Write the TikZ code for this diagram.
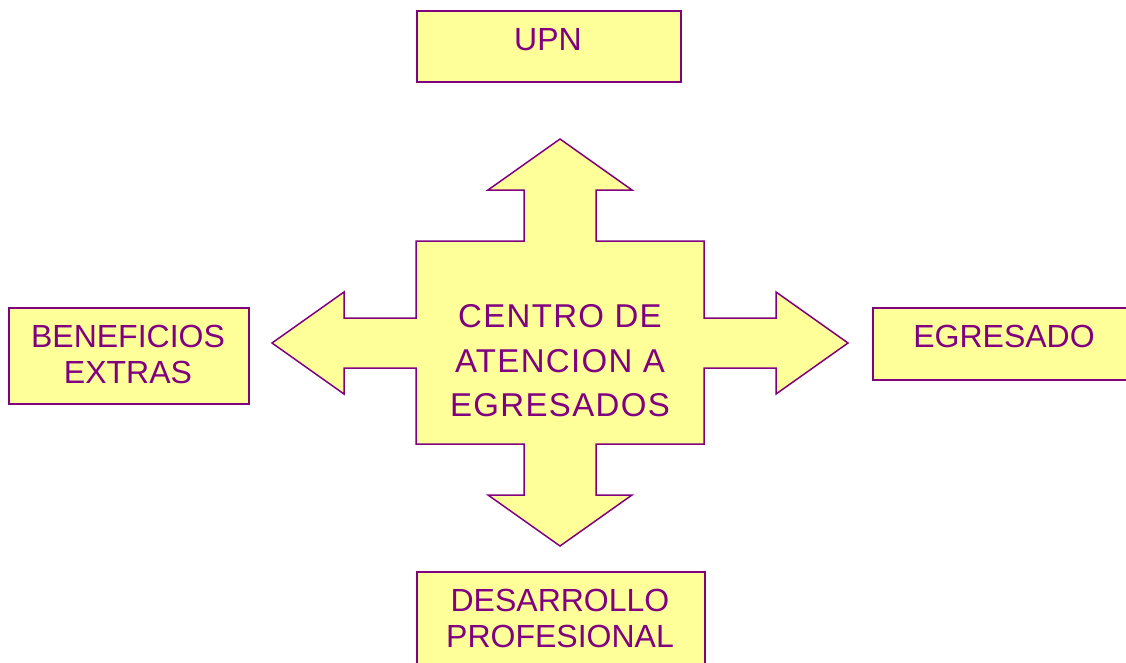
\documentclass[tikz,border=0pt]{standalone}
\usepackage{fontspec}
\setmainfont{Liberation Sans}
\definecolor{fillY}{HTML}{FFFF99}
\definecolor{purp}{HTML}{800080}
\begin{document}
\begin{tikzpicture}[x=1pt,y=-1pt,
  box/.style={draw=purp,fill=fillY,line width=2pt,anchor=north west,inner sep=0pt},
  lbl/.style={text=purp,font=\fontsize{32}{36}\selectfont,align=center,inner sep=0pt},
  clbl/.style={text=purp,font=\fontsize{33}{44.5}\selectfont\addfontfeatures{LetterSpace=4},align=center,inner sep=0pt},
  cross/.style={draw=purp,fill=fillY,line width=1.5pt,line join=miter}
]
\useasboundingbox (0,0) rectangle (1126,662);
% outer boxes
\node[box,minimum width=264pt,minimum height=71pt] (upnbox) at (416,10) {};
\node[lbl] (upn) at (548,40) {UPN};
\node[box,minimum width=240pt,minimum height=96pt] (benbox) at (8,307) {};
\node[lbl] (ben) at (128,354) {BENEFICIOS\\EXTRAS};
\node[box,minimum width=264pt,minimum height=72pt] (egrbox) at (872,307) {};
\node[lbl] (egr) at (1004,336) {EGRESADO};
\node[box,minimum width=288pt,minimum height=110pt] (desbox) at (416,571) {};
\node[lbl] (des) at (560,618) {DESARROLLO\\PROFESIONAL};
% central cross with four arrows
\path[cross] (560,139) -- (632,190) -- (596,190) -- (596,241) -- (704,241) -- (704,318)
  -- (776,318) -- (776,292) -- (848,343) -- (776,394) -- (776,368) -- (704,368)
  -- (704,444) -- (596,444) -- (596,495) -- (632,495) -- (560,546) -- (488,495)
  -- (524,495) -- (524,444) -- (416,444) -- (416,368) -- (344,368) -- (344,394)
  -- (272,343) -- (344,292) -- (344,318) -- (416,318) -- (416,241) -- (524,241)
  -- (524,190) -- (488,190) -- cycle;
\node[clbl] (centro) at (560,361) {CENTRO DE\\ATENCION A\\EGRESADOS};
\end{tikzpicture}
\end{document}
